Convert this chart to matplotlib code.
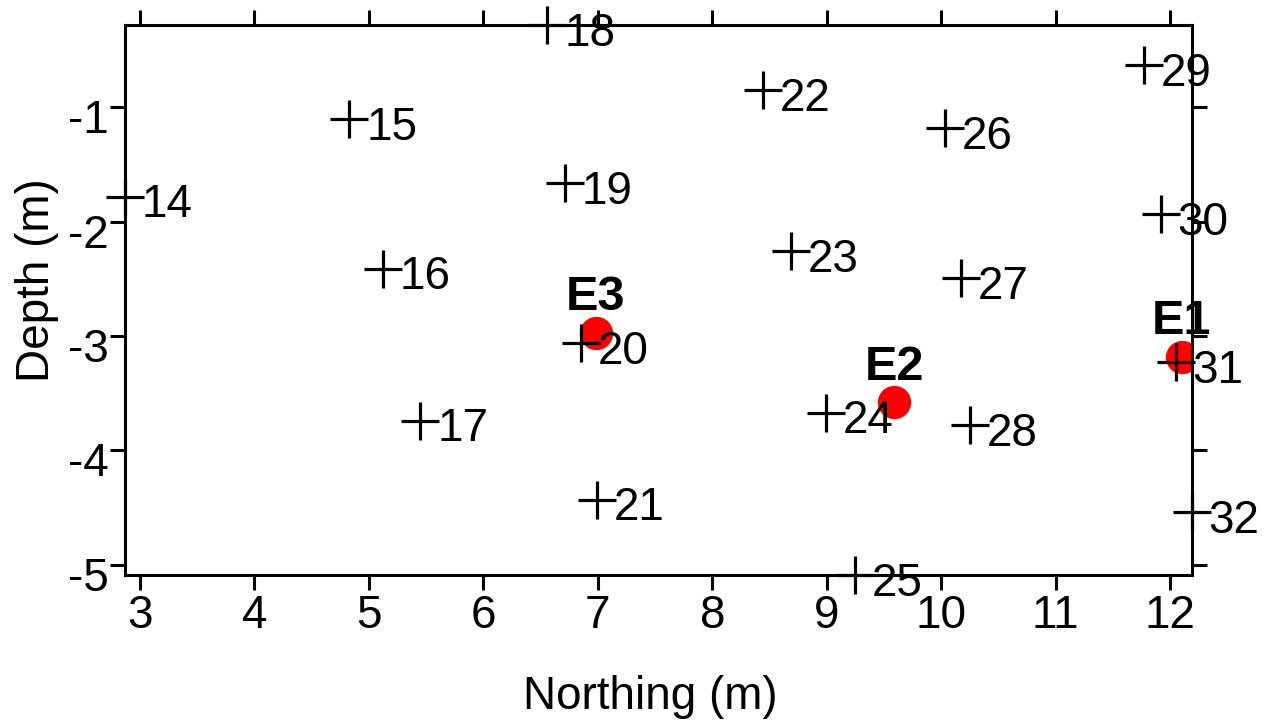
import numpy as np
import matplotlib.pyplot as plt
import matplotlib.transforms as mtransforms

plt.rcParams['font.family'] = ['Liberation Sans', 'DejaVu Sans']
plt.rcParams['axes.unicode_minus'] = False

# measurement points (Northing, Depth) and their numbers
point_ids = [14, 15, 16, 17, 18, 19, 20, 21, 22, 23, 24, 25, 26, 27, 28, 29, 30, 31, 32]
point_x = [2.87, 4.83, 5.12, 5.45, 6.56, 6.71, 6.85, 6.99, 8.44, 8.69, 8.99,
           9.25, 10.03, 10.17, 10.25, 11.77, 11.92, 12.05, 12.19]
point_y = [-1.78, -1.10, -2.41, -3.74, -0.28, -1.66, -3.06, -4.43, -0.85, -2.26, -3.67,
           -5.09, -1.18, -2.49, -3.78, -0.63, -1.93, -3.23, -4.54]

# electrodes
elec_names = ['E1', 'E2', 'E3']
elec_x = [12.10, 9.59, 6.98]
elec_y = [-3.18, -3.58, -2.97]

x_ticks = [3, 4, 5, 6, 7, 8, 9, 10, 11, 12]
y_ticks = [-1, -2, -3, -4, -5]

fig = plt.figure(figsize=(12.78, 7.23), dpi=100)
ax = fig.add_axes([0.0978, 0.2047, 0.8349, 0.7607])

# red electrode dots under the crosses
ax.plot(elec_x, elec_y, 'o', color='red', markersize=24, markeredgewidth=0, zorder=2)
for name, ex, ey in zip(elec_names, elec_x, elec_y):
    ax.annotate(name, (ex, ey), xytext=(0, 16), textcoords='offset points',
                ha='center', va='baseline', fontsize=35, fontweight='bold',
                annotation_clip=False, zorder=4)

# crosses with labels
ax.plot(point_x, point_y, '+', color='black', markersize=28, markeredgewidth=2.3,
        clip_on=False, zorder=3)
for pid, px, py in zip(point_ids, point_x, point_y):
    ax.annotate(str(pid), (px, py), xytext=(12, -15), textcoords='offset points',
                ha='left', va='baseline', fontsize=33, annotation_clip=False, zorder=4)

ax.set_xlim(min(point_x), max(point_x))
ax.set_ylim(min(point_y), max(point_y))

ax.set_xticks(x_ticks)
ax.set_yticks(y_ticks)
ax.set_yticklabels([str(v) for v in y_ticks])
ax.tick_params(direction='out', length=11, width=2.2, labelsize=33,
               top=True, right=True, labeltop=False, labelright=False)
ax.tick_params(axis='x', pad=3)
ax.tick_params(axis='y', pad=1)
for sp in ax.spines.values():
    sp.set_linewidth(2.2)

# nudge y tick labels down a little
shift = mtransforms.ScaledTranslation(0, -0.09, fig.dpi_scale_trans)
for lab in ax.get_yticklabels():
    lab.set_transform(lab.get_transform() + shift)

ax.set_xlabel('Northing (m)', fontsize=33)
ax.xaxis.set_label_coords(0.492, -0.182)
ax.set_ylabel('Depth (m)', fontsize=33)
ax.yaxis.set_label_coords(-0.062, 0.536)

fig.savefig('out.png', dpi=100)
